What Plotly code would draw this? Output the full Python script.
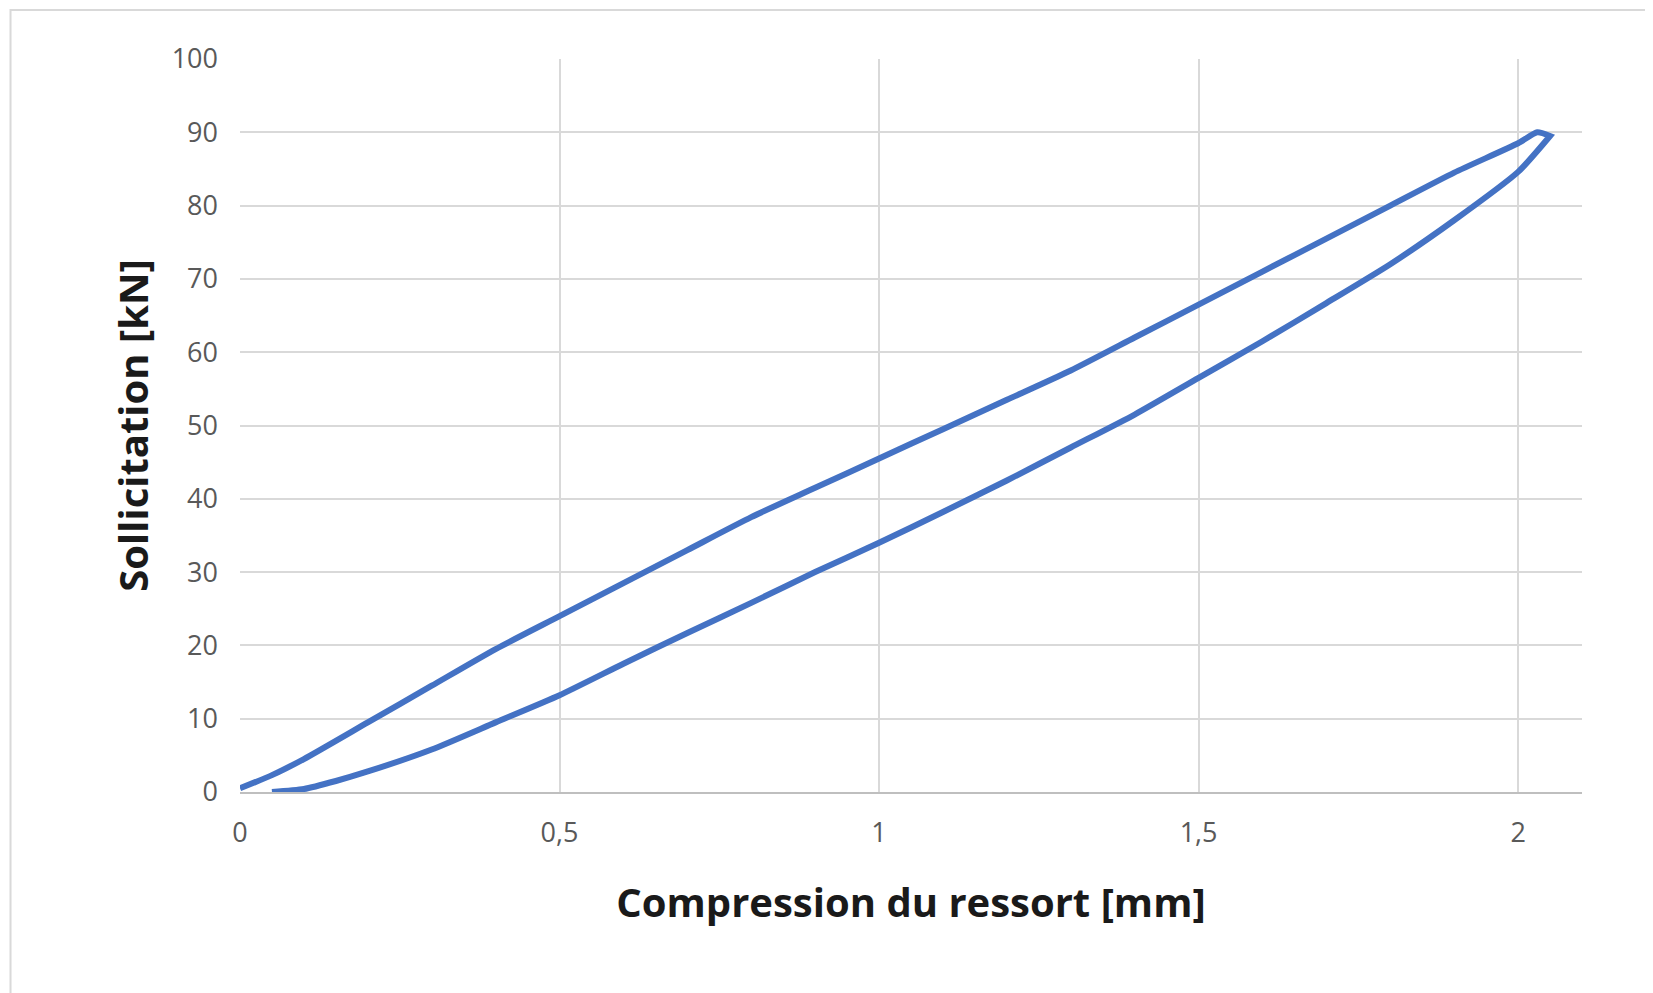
import plotly.graph_objects as go

# loading branch (upper) then unloading branch (lower)
load_x = [0, 0.05, 0.1, 0.2, 0.3, 0.4, 0.5, 0.6, 0.7, 0.8, 0.9, 1.0, 1.1, 1.2,
          1.3, 1.4, 1.5, 1.6, 1.7, 1.8, 1.9, 2.0, 2.03, 2.05]
load_y = [0.5, 2.3, 4.5, 9.5, 14.5, 19.5, 24, 28.5, 33, 37.5, 41.5, 45.5, 49.5,
          53.5, 57.5, 62, 66.5, 71, 75.5, 80, 84.5, 88.5, 90, 89.5]
unload_x = [2.05, 2.0, 1.9, 1.8, 1.7, 1.6, 1.5, 1.4, 1.3, 1.2, 1.1, 1.0, 0.9,
            0.8, 0.7, 0.6, 0.5, 0.4, 0.3, 0.2, 0.15, 0.1, 0.05]
unload_y = [89.5, 84.6, 78, 72, 66.7, 61.5, 56.5, 51.5, 47, 42.5, 38.2, 34, 30,
            25.8, 21.7, 17.5, 13.2, 9.5, 5.8, 2.8, 1.5, 0.4, 0]

x = load_x + unload_x
y = load_y + unload_y

fig = go.Figure(go.Scatter(x=x, y=y, mode="lines",
                           line=dict(color="#4472c4", width=6, shape="spline", smoothing=0.6),
                           showlegend=False))

tick_font = dict(family="Open Sans, Liberation Sans", size=27, color="#595959")
title_font = dict(family="Open Sans, Liberation Sans", size=40, color="#1a1a1a")

fig.update_layout(
    width=1653, height=993,
    paper_bgcolor="white", plot_bgcolor="white",
    margin=dict(l=232, r=79, t=51, b=209),
    xaxis=dict(range=[0, 2.1], tickvals=[0, 0.5, 1, 1.5, 2],
               ticktext=["0", "0,5", "1", "1,5", "2"],
               showgrid=True, gridcolor="#d9d9d9", gridwidth=2,
               zeroline=False, showline=True, linecolor="#bfbfbf", linewidth=2,
               tickfont=tick_font, ticks="outside", ticklen=16, tickcolor="white",
               title=dict(text="<b>Compression du ressort [mm]</b>", font=title_font, standoff=40)),
    yaxis=dict(range=[0, 100], dtick=10,
               showgrid=True, gridcolor="#d9d9d9", gridwidth=2,
               zeroline=False, showline=False,
               tickfont=tick_font, ticksuffix="   ",
               title=dict(text="<b>Sollicitation [kN]</b>", font=title_font, standoff=10)),
    shapes=[dict(type="rect", xref="paper", yref="paper", x0=-0.171, x1=1.057,
                 y0=-0.283, y1=1.067, line=dict(color="#d9d9d9", width=2))],
)

fig.write_html("out.html")
